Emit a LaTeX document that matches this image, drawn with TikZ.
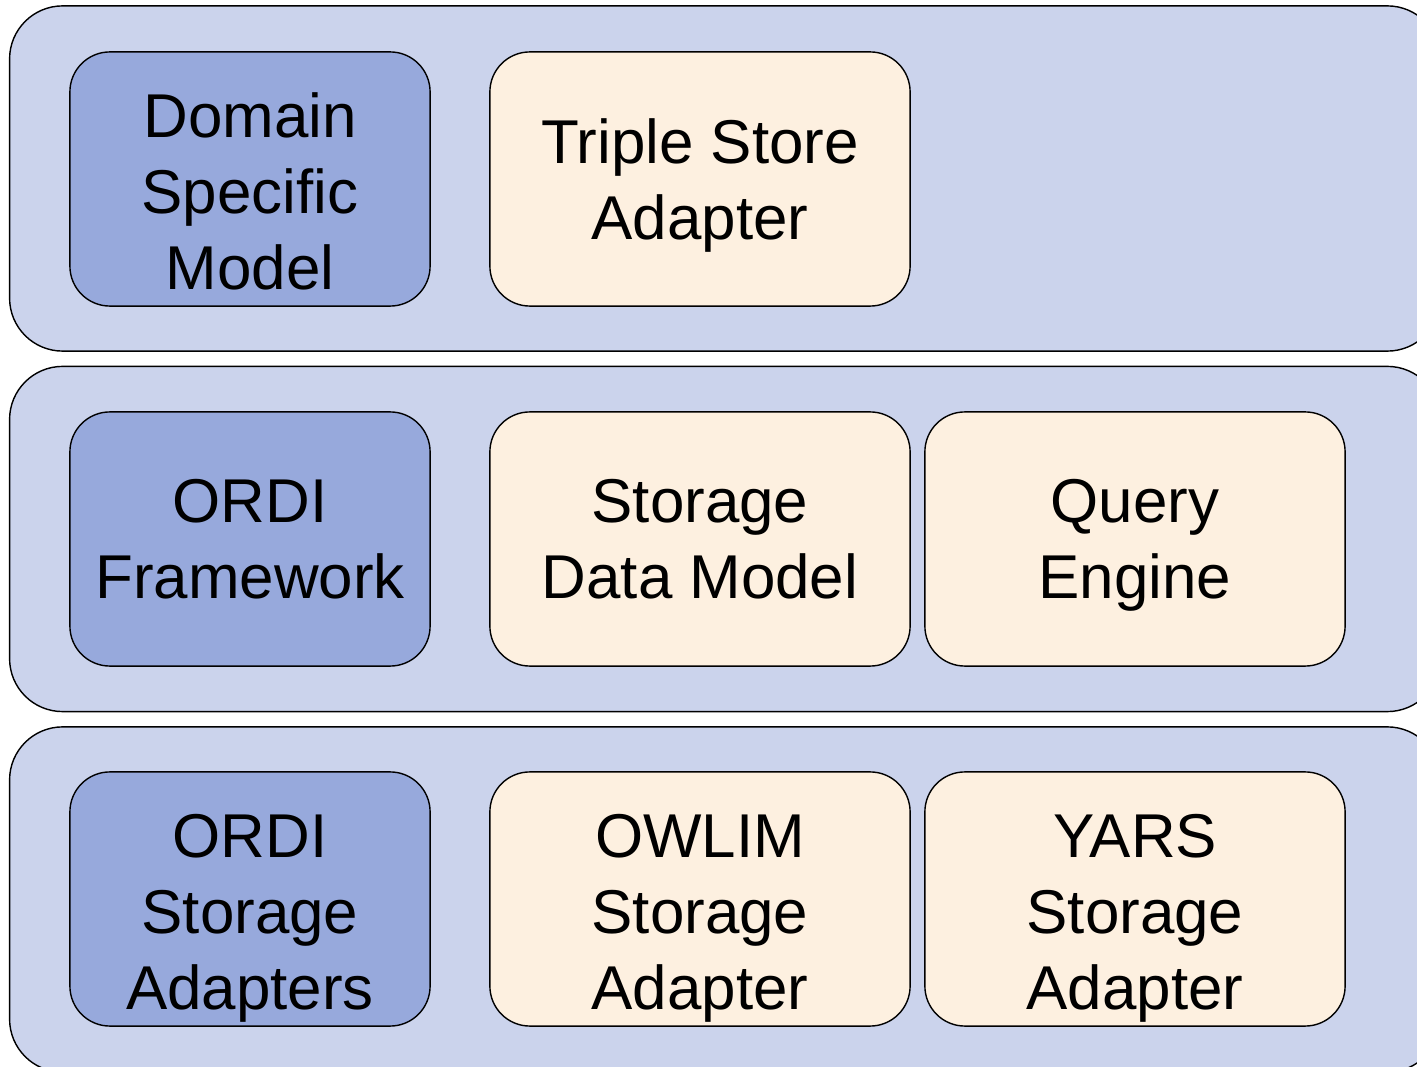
\documentclass[tikz,border=0pt]{standalone}
\usepackage{fontspec}
\setmainfont{Liberation Sans}
\definecolor{bandblue}{RGB}{203,211,236}
\definecolor{coreblue}{RGB}{151,169,220}
\definecolor{cream}{RGB}{253,240,224}
\tikzset{
  layer/.style={draw, fill=bandblue, rounded corners=0.53cm, minimum width=14.3cm, minimum height=3.45cm},
  core/.style={draw, fill=coreblue, rounded corners=0.4cm, minimum width=3.6cm, minimum height=2.54cm, align=center, text depth=0pt, font=\fontsize{17.6}{21.6}\selectfont},
  part/.style={draw, fill=cream, rounded corners=0.4cm, minimum width=4.2cm, minimum height=2.54cm, align=center, text depth=0pt, font=\fontsize{17.6}{21.6}\selectfont},
  threeline/.style={text height=2.2cm}
}
\begin{document}
\begin{tikzpicture}[x=0.01cm, y=-0.01cm]
\useasboundingbox (0,0) rectangle (1417,1067);
\clip (0,0) rectangle (1417,1067);
% layers
\node[layer] (top) at (725,178.5) {};
\node[layer] (mid) at (725,539) {};
\node[layer] (bot) at (725,899.5) {};
% top layer
\node[core, threeline] (dsm) at (250,179) {Domain\\Specific\\Model};
\node[part] (tsa) at (700,179) {Triple Store\\Adapter};
% middle layer
\node[core] (fw) at (250,539) {ORDI\\Framework};
\node[part] (sdm) at (700,539) {Storage\\Data Model};
\node[part] (qe) at (1135,539) {Query\\Engine};
% bottom layer
\node[core, threeline] (osa) at (250,899) {ORDI\\Storage\\Adapters};
\node[part, threeline] (owlim) at (700,899) {OWLIM\\Storage\\Adapter};
\node[part, threeline] (yars) at (1135,899) {YARS\\Storage\\Adapter};
\end{tikzpicture}
\end{document}
